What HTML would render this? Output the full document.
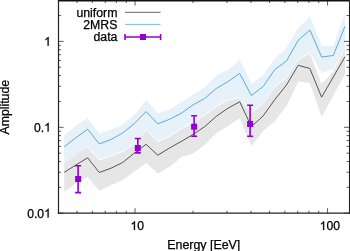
<!DOCTYPE html>
<html><head><meta charset="utf-8"><style>
html,body{margin:0;padding:0;background:#fff;}
svg{display:block;will-change:transform;}
text{-webkit-font-smoothing:antialiased;font-family:"Liberation Sans",sans-serif;fill:#000;stroke:#000;stroke-width:0.25px;}
</style></head><body>
<svg width="350" height="251" viewBox="0 0 350 251">
<rect width="350" height="251" fill="#fff"/>
<polygon points="64.20,135.80 75.90,125.50 87.60,118.00 99.30,133.60 111.00,130.00 122.70,124.50 134.40,114.50 146.10,100.00 157.80,113.30 169.50,109.60 181.20,102.30 192.90,94.80 204.60,87.60 216.30,75.50 228.00,70.00 239.70,59.80 251.40,84.00 263.10,75.00 274.80,58.50 286.50,48.00 298.20,28.00 309.90,16.50 321.60,46.00 333.30,46.00 345.00,13.00 345.00,48.00 333.30,69.00 321.60,73.00 309.90,52.40 298.20,59.00 286.50,77.00 274.80,86.50 263.10,103.00 251.40,112.50 239.70,97.00 228.00,99.50 216.30,106.00 204.60,114.50 192.90,122.00 181.20,128.50 169.50,135.80 157.80,141.00 146.10,129.60 134.40,143.00 122.70,151.00 111.00,155.30 99.30,159.50 87.60,146.50 75.90,158.00 64.20,166.50" fill="#e6f1fa"/>
<polygon points="64.20,163.50 75.90,155.00 87.60,147.50 99.30,160.50 111.00,156.30 122.70,152.00 134.40,144.00 146.10,130.60 157.80,142.00 169.50,136.80 181.20,129.50 192.90,123.00 204.60,115.50 216.30,107.00 228.00,100.50 239.70,98.00 251.40,113.50 263.10,104.00 274.80,87.50 286.50,78.00 298.20,60.00 309.90,53.40 321.60,84.00 333.30,71.50 345.00,49.00 345.00,74.00 333.30,95.50 321.60,117.00 309.90,83.00 298.20,81.50 286.50,106.00 274.80,121.00 263.10,131.00 251.40,145.70 239.70,118.00 228.00,126.00 216.30,133.00 204.60,145.00 192.90,153.50 181.20,157.00 169.50,167.00 157.80,173.50 146.10,163.00 134.40,171.50 122.70,180.00 111.00,185.00 99.30,191.00 87.60,177.00 75.90,183.50 64.20,191.70" fill="#e6e6e6"/>
<polyline points="64.20,146.80 75.90,137.70 87.60,129.20 99.30,143.90 111.00,139.50 122.70,133.00 134.40,123.50 146.10,111.50 157.80,123.80 169.50,119.30 181.20,113.30 192.90,105.00 204.60,98.50 216.30,88.50 228.00,81.50 239.70,73.50 251.40,95.50 263.10,86.50 274.80,69.50 286.50,61.00 298.20,40.30 309.90,30.00 321.60,57.00 333.30,55.50 345.00,26.20" fill="none" stroke="#5eaad8" stroke-width="1.0"/>
<polyline points="64.20,172.40 75.90,165.00 87.60,157.80 99.30,172.50 111.00,168.20 122.70,162.50 134.40,153.00 146.10,144.30 157.80,155.20 169.50,148.00 181.20,141.50 192.90,134.50 204.60,126.70 216.30,116.30 228.00,108.20 239.70,101.80 251.40,126.50 263.10,116.00 274.80,99.50 286.50,85.00 298.20,65.30 309.90,68.50 321.60,97.20 333.30,77.00 345.00,56.70" fill="none" stroke="#555" stroke-width="1.0"/>
<path d="M78.1,165.7V192.6M75.1,165.7h6M75.1,192.6h6" stroke="#9400d3" stroke-width="1.6" fill="none"/><rect x="75.1" y="176" width="6" height="6" fill="#9400d3"/><path d="M137.8,138.5V152.9M134.8,138.5h6M134.8,152.9h6" stroke="#9400d3" stroke-width="1.6" fill="none"/><rect x="134.8" y="145" width="6" height="6" fill="#9400d3"/><path d="M194.1,115.8V136.2M191.1,115.8h6M191.1,136.2h6" stroke="#9400d3" stroke-width="1.6" fill="none"/><rect x="191.1" y="123.7" width="6" height="6" fill="#9400d3"/><path d="M250.1,105.2V136.2M247.1,105.2h6M247.1,136.2h6" stroke="#9400d3" stroke-width="1.6" fill="none"/><rect x="247.1" y="121" width="6" height="6" fill="#9400d3"/>
<path d="M58.45,213.2v-2.5M58.45,0.5v2.5M77.10,213.2v-2.5M77.10,0.5v2.5M92.34,213.2v-2.5M92.34,0.5v2.5M105.23,213.2v-2.5M105.23,0.5v2.5M116.39,213.2v-2.5M116.39,0.5v2.5M126.24,213.2v-2.5M126.24,0.5v2.5M135.05,213.2v-5M135.05,0.5v5M193.00,213.2v-2.5M193.00,0.5v2.5M226.90,213.2v-2.5M226.90,0.5v2.5M250.95,213.2v-2.5M250.95,0.5v2.5M269.60,213.2v-2.5M269.60,0.5v2.5M284.84,213.2v-2.5M284.84,0.5v2.5M297.73,213.2v-2.5M297.73,0.5v2.5M308.89,213.2v-2.5M308.89,0.5v2.5M318.74,213.2v-2.5M318.74,0.5v2.5M327.55,213.2v-5M327.55,0.5v5M58.6,213.20h5M349.0,213.20h-5M58.6,187.34h2.5M349.0,187.34h-2.5M58.6,172.22h2.5M349.0,172.22h-2.5M58.6,161.48h2.5M349.0,161.48h-2.5M58.6,153.16h2.5M349.0,153.16h-2.5M58.6,146.36h2.5M349.0,146.36h-2.5M58.6,140.61h2.5M349.0,140.61h-2.5M58.6,135.62h2.5M349.0,135.62h-2.5M58.6,131.23h2.5M349.0,131.23h-2.5M58.6,127.30h5M349.0,127.30h-5M58.6,101.44h2.5M349.0,101.44h-2.5M58.6,86.32h2.5M349.0,86.32h-2.5M58.6,75.58h2.5M349.0,75.58h-2.5M58.6,67.26h2.5M349.0,67.26h-2.5M58.6,60.46h2.5M349.0,60.46h-2.5M58.6,54.71h2.5M349.0,54.71h-2.5M58.6,49.72h2.5M349.0,49.72h-2.5M58.6,45.33h2.5M349.0,45.33h-2.5M58.6,41.40h5M349.0,41.40h-5M58.6,15.54h2.5M349.0,15.54h-2.5M58.6,0.42h2.5M349.0,0.42h-2.5" stroke="#333" stroke-width="0.8" fill="none"/>
<path d="M57.9,0.7H350" stroke="#111" stroke-width="1.4"/>
<path d="M57.9,213.1H350" stroke="#222" stroke-width="1.4"/>
<path d="M58.5,0V213.8" stroke="#222" stroke-width="1.2"/>
<path d="M349.5,0V213.8" stroke="#222" stroke-width="1.1"/>
<g font-size="12">
<text x="44.115" y="217.5" text-anchor="end" font-size="12.2">0.0</text><path d="M763,0L583,0L583,1147Q518,1085 412,1023Q306,961 222,930L222,1104Q373,1175 486,1276Q599,1377 646,1472L763,1472Z" transform="translate(44.115,217.5) scale(0.005957,-0.005957)" fill="#000" stroke="#000" stroke-width="42.0"/><text x="44.115" y="131.6" text-anchor="end" font-size="12.2">0.</text><path d="M763,0L583,0L583,1147Q518,1085 412,1023Q306,961 222,930L222,1104Q373,1175 486,1276Q599,1377 646,1472L763,1472Z" transform="translate(44.115,131.6) scale(0.005957,-0.005957)" fill="#000" stroke="#000" stroke-width="42.0"/><path d="M763,0L583,0L583,1147Q518,1085 412,1023Q306,961 222,930L222,1104Q373,1175 486,1276Q599,1377 646,1472L763,1472Z" transform="translate(44.115,45.7) scale(0.005957,-0.005957)" fill="#000" stroke="#000" stroke-width="42.0"/><path d="M763,0L583,0L583,1147Q518,1085 412,1023Q306,961 222,930L222,1104Q373,1175 486,1276Q599,1377 646,1472L763,1472Z" transform="translate(130.415,230) scale(0.005957,-0.005957)" fill="#000" stroke="#000" stroke-width="42.0"/><text x="137.200" y="230" font-size="12.2">0</text><path d="M763,0L583,0L583,1147Q518,1085 412,1023Q306,961 222,930L222,1104Q373,1175 486,1276Q599,1377 646,1472L763,1472Z" transform="translate(319.622,230) scale(0.005957,-0.005957)" fill="#000" stroke="#000" stroke-width="42.0"/><text x="326.407" y="230" font-size="12.2">00</text>
<text x="203.8" y="248.9" text-anchor="middle" font-size="12.4">Energy [EeV]</text>
<text transform="translate(9.2,107.2) rotate(-90)" text-anchor="middle" font-size="12.3">Amplitude</text>
<text x="117.4" y="16.9" text-anchor="end" font-size="12.3">uniform</text>
<text x="117.4" y="29.3" text-anchor="end" font-size="12.3">2MRS</text>
<text x="117.4" y="40.9" text-anchor="end" font-size="12.3">data</text>
</g>
<path d="M125,12.3H160.6" stroke="#6a6a6a" stroke-width="1.0"/>
<path d="M125,24.4H160.6" stroke="#7cbde4" stroke-width="1.0"/>
<path d="M125,37H160.6M125,34V40M160.6,34V40" stroke="#9400d3" stroke-width="1.6" fill="none"/>
<rect x="140" y="34" width="6" height="6" fill="#9400d3"/>
</svg>
</body></html>
